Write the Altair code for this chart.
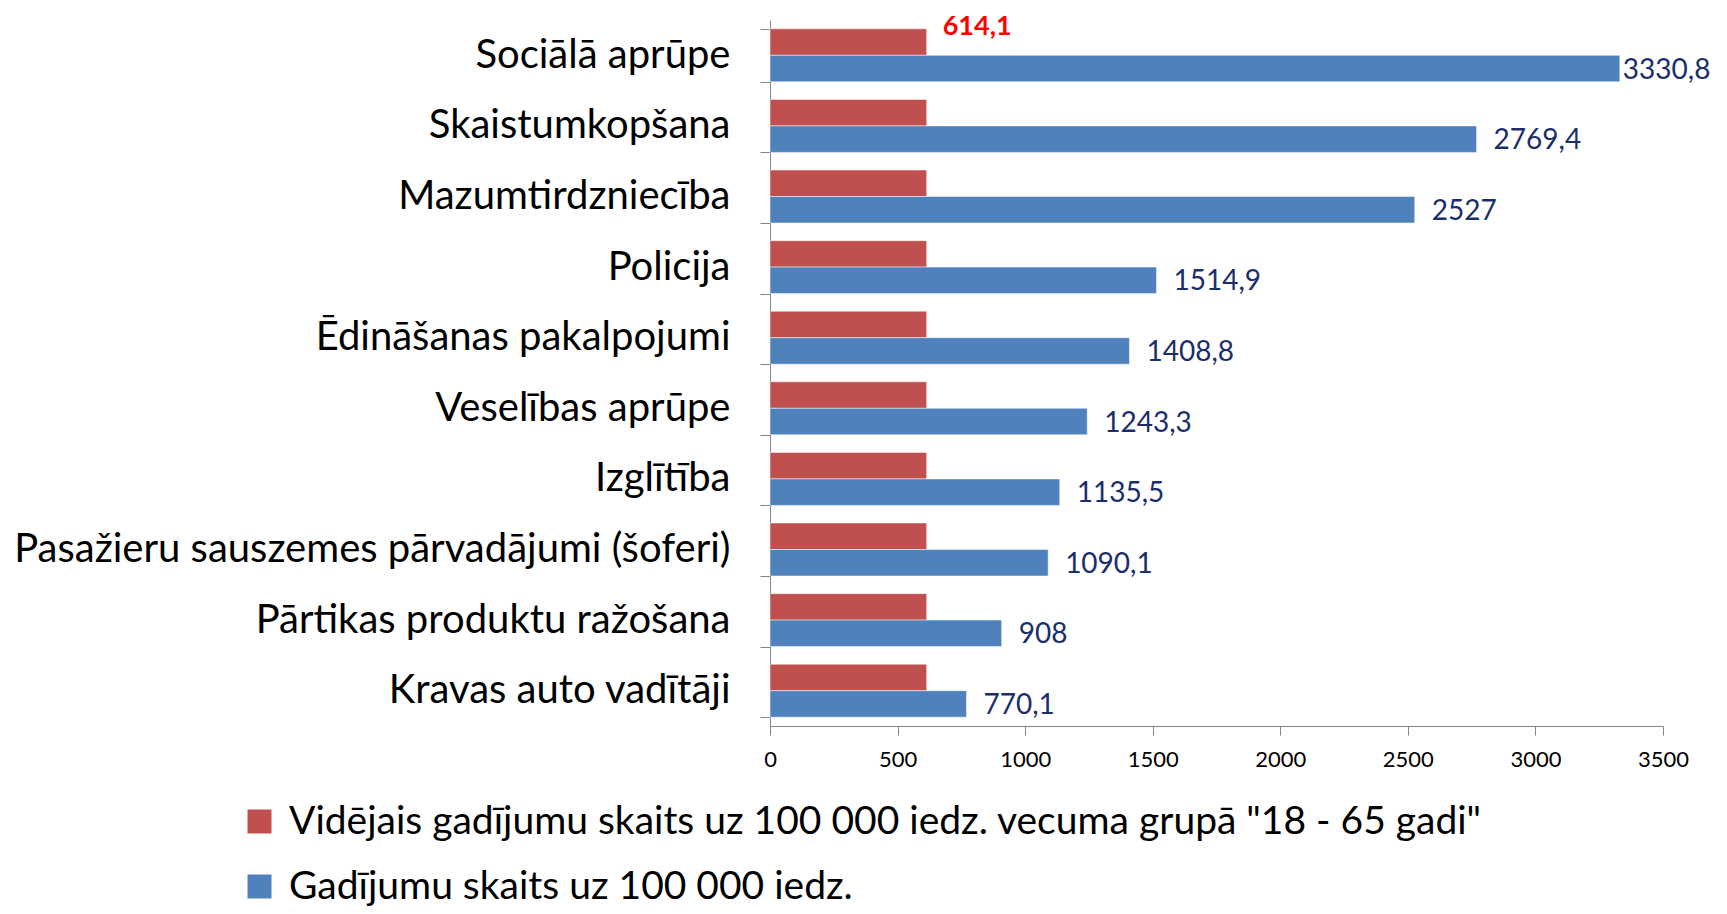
import altair as alt
import pandas as pd

categories = [
    "Sociālā aprūpe",
    "Skaistumkopšana",
    "Mazumtirdzniecība",
    "Policija",
    "Ēdināšanas pakalpojumi",
    "Veselības aprūpe",
    "Izglītība",
    "Pasažieru sauszemes pārvadājumi (šoferi)",
    "Pārtikas produktu ražošana",
    "Kravas auto vadītāji",
]
average_values = [614.1, 614.1, 614.1, 614.1, 614.1, 614.1, 614.1, 614.1, 614.1, 614.1]
case_values = [3330.8, 2769.4, 2527, 1514.9, 1408.8, 1243.3, 1135.5, 1090.1, 908, 770.1]
series_names = [
    'Vidējais gadījumu skaits uz 100 000 iedz. vecuma grupā "18 - 65 gadi"',
    "Gadījumu skaits uz 100 000 iedz.",
]
series_colors = ["#C0504D", "#4F81BD"]
x_ticks = [0, 500, 1000, 1500, 2000, 2500, 3000, 3500]

rows = []
for c, a, v in zip(categories, average_values, case_values):
    rows.append({"category": c, "series": series_names[0], "value": a})
    rows.append({"category": c, "series": series_names[1], "value": v})
df = pd.DataFrame(rows)

FONT = "Lato"
AXIS_GRAY = "#868686"
LABEL_NAVY = "#1A2E6C"

y_enc = alt.Y(
    "category:N",
    sort=categories,
    scale=alt.Scale(paddingInner=0.25, paddingOuter=0.125),
    axis=alt.Axis(
        title=None, labelFontSize=40, labelColor="black", labelFont=FONT,
        labelPadding=30, tickSize=10, tickBand="extent",
        domainColor=AXIS_GRAY, tickColor=AXIS_GRAY, labelLimit=1000,
    ),
)
yoff_enc = alt.YOffset("series:N", sort=series_names, scale=alt.Scale(domain=series_names))
x_enc = alt.X(
    "value:Q",
    scale=alt.Scale(domain=[0, 3500], nice=False),
    axis=alt.Axis(
        values=x_ticks, title=None, grid=False, labelFontSize=22, labelFont=FONT,
        labelColor="black", tickSize=9, labelPadding=14, format="d",
        labelFlush=False, domainColor=AXIS_GRAY, tickColor=AXIS_GRAY,
    ),
)

base = alt.Chart(df).encode(y=y_enc, yOffset=yoff_enc)

bars = base.mark_bar(stroke="white", strokeWidth=0.5).encode(
    x=x_enc,
    color=alt.Color(
        "series:N",
        scale=alt.Scale(domain=series_names, range=series_colors),
        legend=alt.Legend(
            title=None, orient="none", legendX=-530, legendY=782,
            labelFontSize=39, labelFont=FONT, labelColor="black",
            symbolType="square", symbolSize=576, symbolStrokeWidth=0,
            rowPadding=25, labelLimit=2000, direction="vertical",
            labelOffset=10, padding=0,
        ),
    ),
)

labelled = base.transform_filter(
    alt.datum.series == series_names[1]
).transform_calculate(
    label="replace(toString(datum.value), '.', ',')"
)

labels_main = labelled.transform_filter(alt.datum.value < 3000).mark_text(
    align="left", baseline="middle", dx=17, dy=2, fontSize=28, font=FONT, color=LABEL_NAVY
).encode(x=alt.X("value:Q"), text="label:N")

labels_edge = labelled.transform_filter(alt.datum.value >= 3000).mark_text(
    align="left", baseline="middle", dx=3, dy=2, fontSize=28, font=FONT, color=LABEL_NAVY
).encode(x=alt.X("value:Q"), text="label:N")

avg_label = base.transform_filter(
    (alt.datum.series == series_names[0]) & (alt.datum.category == categories[0])
).transform_calculate(
    label="replace(toString(datum.value), '.', ',')"
).mark_text(
    align="left", baseline="middle", dx=16, dy=-15, fontSize=27, font=FONT,
    fontWeight="bold", color="#FF0000"
).encode(x=alt.X("value:Q"), text="label:N")

chart = alt.layer(bars, labels_main, labels_edge, avg_label).properties(
    width=893,
    height=706,
    autosize=alt.AutoSizeParams(type="none"),
    padding={"left": 762, "top": 12, "right": 56, "bottom": 180},
).configure_view(stroke=None)

chart.save("out.html", embed_options={"renderer": "svg", "actions": False})
